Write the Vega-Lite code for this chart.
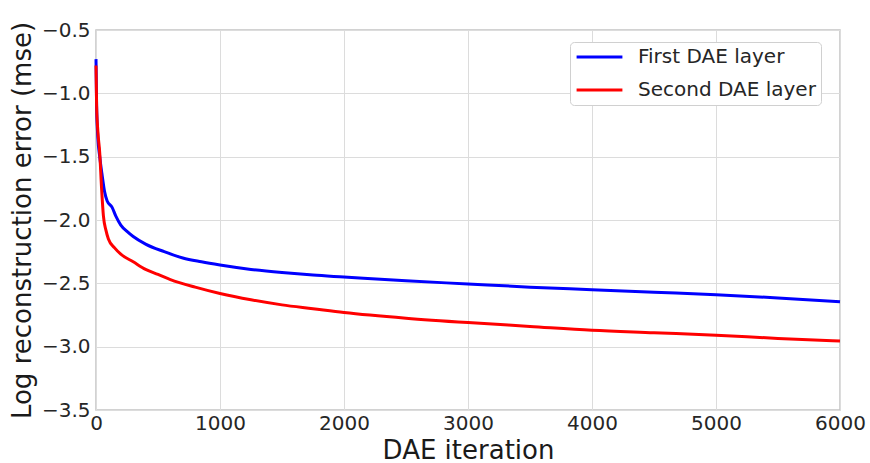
{
  "$schema": "https://vega.github.io/schema/vega-lite/v6.json",
  "autosize": {"type": "none"},
  "width": 744,
  "height": 380,
  "padding": {"left": 96, "top": 30, "right": 30, "bottom": 53},
  "background": "white",
  "config": {
    "font": "DejaVu Sans",
    "view": {"stroke": "#c4c4c4", "strokeWidth": 1.5},
    "axis": {
      "grid": true,
      "gridColor": "#dcdcdc",
      "gridWidth": 1,
      "domain": false,
      "ticks": false,
      "labelFont": "DejaVu Sans",
      "labelFontSize": 20,
      "labelColor": "#262626",
      "titleFont": "DejaVu Sans",
      "titleFontSize": 26,
      "titleFontWeight": "normal",
      "titleColor": "#1a1a1a"
    }
  },
  "data": {
    "values": [
      {"iteration": 0, "error": -0.73, "layer": "First DAE layer"},
      {"iteration": 5, "error": -1.1, "layer": "First DAE layer"},
      {"iteration": 15, "error": -1.35, "layer": "First DAE layer"},
      {"iteration": 30, "error": -1.5, "layer": "First DAE layer"},
      {"iteration": 50, "error": -1.65, "layer": "First DAE layer"},
      {"iteration": 70, "error": -1.78, "layer": "First DAE layer"},
      {"iteration": 90, "error": -1.85, "layer": "First DAE layer"},
      {"iteration": 130, "error": -1.9, "layer": "First DAE layer"},
      {"iteration": 160, "error": -1.97, "layer": "First DAE layer"},
      {"iteration": 200, "error": -2.04, "layer": "First DAE layer"},
      {"iteration": 250, "error": -2.09, "layer": "First DAE layer"},
      {"iteration": 300, "error": -2.13, "layer": "First DAE layer"},
      {"iteration": 400, "error": -2.19, "layer": "First DAE layer"},
      {"iteration": 550, "error": -2.25, "layer": "First DAE layer"},
      {"iteration": 700, "error": -2.3, "layer": "First DAE layer"},
      {"iteration": 850, "error": -2.33, "layer": "First DAE layer"},
      {"iteration": 1000, "error": -2.355, "layer": "First DAE layer"},
      {"iteration": 1250, "error": -2.39, "layer": "First DAE layer"},
      {"iteration": 1500, "error": -2.415, "layer": "First DAE layer"},
      {"iteration": 1750, "error": -2.435, "layer": "First DAE layer"},
      {"iteration": 2000, "error": -2.45, "layer": "First DAE layer"},
      {"iteration": 2500, "error": -2.48, "layer": "First DAE layer"},
      {"iteration": 3000, "error": -2.505, "layer": "First DAE layer"},
      {"iteration": 3500, "error": -2.53, "layer": "First DAE layer"},
      {"iteration": 4000, "error": -2.55, "layer": "First DAE layer"},
      {"iteration": 4500, "error": -2.57, "layer": "First DAE layer"},
      {"iteration": 5000, "error": -2.59, "layer": "First DAE layer"},
      {"iteration": 5500, "error": -2.615, "layer": "First DAE layer"},
      {"iteration": 6000, "error": -2.645, "layer": "First DAE layer"},
      {"iteration": 0, "error": -0.78, "layer": "Second DAE layer"},
      {"iteration": 5, "error": -1.1, "layer": "Second DAE layer"},
      {"iteration": 15, "error": -1.3, "layer": "Second DAE layer"},
      {"iteration": 30, "error": -1.47, "layer": "Second DAE layer"},
      {"iteration": 45, "error": -1.75, "layer": "Second DAE layer"},
      {"iteration": 60, "error": -1.97, "layer": "Second DAE layer"},
      {"iteration": 80, "error": -2.08, "layer": "Second DAE layer"},
      {"iteration": 100, "error": -2.15, "layer": "Second DAE layer"},
      {"iteration": 150, "error": -2.22, "layer": "Second DAE layer"},
      {"iteration": 200, "error": -2.27, "layer": "Second DAE layer"},
      {"iteration": 300, "error": -2.33, "layer": "Second DAE layer"},
      {"iteration": 400, "error": -2.39, "layer": "Second DAE layer"},
      {"iteration": 500, "error": -2.43, "layer": "Second DAE layer"},
      {"iteration": 600, "error": -2.47, "layer": "Second DAE layer"},
      {"iteration": 800, "error": -2.53, "layer": "Second DAE layer"},
      {"iteration": 1000, "error": -2.58, "layer": "Second DAE layer"},
      {"iteration": 1250, "error": -2.63, "layer": "Second DAE layer"},
      {"iteration": 1500, "error": -2.67, "layer": "Second DAE layer"},
      {"iteration": 1750, "error": -2.7, "layer": "Second DAE layer"},
      {"iteration": 2000, "error": -2.73, "layer": "Second DAE layer"},
      {"iteration": 2500, "error": -2.775, "layer": "Second DAE layer"},
      {"iteration": 3000, "error": -2.81, "layer": "Second DAE layer"},
      {"iteration": 3500, "error": -2.84, "layer": "Second DAE layer"},
      {"iteration": 4000, "error": -2.87, "layer": "Second DAE layer"},
      {"iteration": 4500, "error": -2.89, "layer": "Second DAE layer"},
      {"iteration": 5000, "error": -2.91, "layer": "Second DAE layer"},
      {"iteration": 5500, "error": -2.935, "layer": "Second DAE layer"},
      {"iteration": 6000, "error": -2.955, "layer": "Second DAE layer"}
    ]
  },
  "mark": {"type": "line", "strokeWidth": 3, "interpolate": "monotone"},
  "encoding": {
    "x": {
      "field": "iteration",
      "type": "quantitative",
      "title": "DAE iteration",
      "scale": {"domain": [0, 6000], "nice": false, "zero": false},
      "axis": {"values": [0, 1000, 2000, 3000, 4000, 5000, 6000], "format": "d", "labelFlush": false, "labelPadding": 3, "titlePadding": 4}
    },
    "y": {
      "field": "error",
      "type": "quantitative",
      "title": "Log reconstruction error (mse)",
      "scale": {"domain": [-3.5, -0.5], "nice": false, "zero": false},
      "axis": {"values": [-3.5, -3.0, -2.5, -2.0, -1.5, -1.0, -0.5], "format": ".1f", "labelFlush": false, "labelPadding": 6, "titlePadding": 6}
    },
    "color": {
      "field": "layer",
      "type": "nominal",
      "scale": {"domain": ["First DAE layer", "Second DAE layer"], "range": ["#0000ff", "#ff0000"]},
      "legend": {
        "title": null,
        "orient": "none",
        "legendX": 474,
        "legendY": 12,
        "fillColor": "white",
        "strokeColor": "#d0d0d0",
        "cornerRadius": 4,
        "padding": 5,
        "symbolType": "stroke",
        "symbolSize": 2100,
        "symbolStrokeWidth": 3,
        "clipHeight": 20,
        "labelFont": "DejaVu Sans",
        "labelFontSize": 20,
        "labelLimit": 400,
        "labelColor": "#262626",
        "labelOffset": 14,
        "rowPadding": 13
      }
    }
  }
}
